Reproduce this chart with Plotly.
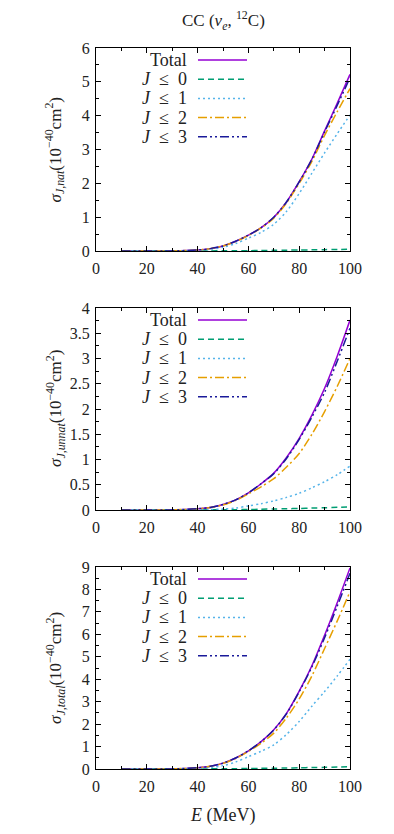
import plotly.graph_objects as go

# ---------------- data ----------------
E = [10, 20, 30, 40, 45, 50, 55, 60, 65, 70, 75, 80, 85, 90, 95, 100]

nat_total = [0, 0, 0.002, 0.03, 0.07, 0.15, 0.29, 0.47, 0.69, 1.00, 1.45, 2.05, 2.72, 3.55, 4.37, 5.22]
nat_j3    = [0, 0, 0.002, 0.03, 0.07, 0.15, 0.29, 0.47, 0.69, 1.00, 1.45, 2.04, 2.71, 3.52, 4.31, 5.12]
nat_j2    = [0, 0, 0.002, 0.03, 0.07, 0.15, 0.28, 0.46, 0.68, 0.97, 1.42, 2.00, 2.65, 3.42, 4.12, 4.80]
nat_j1    = [0, 0, 0.001, 0.02, 0.05, 0.11, 0.22, 0.38, 0.55, 0.79, 1.17, 1.70, 2.30, 2.90, 3.47, 4.02]
nat_j0    = [0, 0, 0, 0.002, 0.003, 0.005, 0.007, 0.010, 0.015, 0.020, 0.025, 0.030, 0.035, 0.040, 0.045, 0.050]

unn_total = [0, 0, 0.002, 0.025, 0.05, 0.11, 0.20, 0.34, 0.52, 0.73, 1.04, 1.42, 1.88, 2.41, 3.05, 3.76]
unn_j3    = [0, 0, 0.002, 0.025, 0.05, 0.11, 0.20, 0.34, 0.52, 0.72, 1.02, 1.40, 1.84, 2.33, 2.95, 3.60]
unn_j2    = [0, 0, 0.002, 0.024, 0.05, 0.10, 0.19, 0.32, 0.46, 0.62, 0.85, 1.12, 1.50, 1.95, 2.45, 3.00]
unn_j1    = [0, 0, 0, 0.005, 0.010, 0.020, 0.040, 0.080, 0.125, 0.18, 0.25, 0.33, 0.44, 0.56, 0.70, 0.87]
unn_j0    = [0, 0, 0, 0.002, 0.003, 0.005, 0.007, 0.010, 0.015, 0.020, 0.025, 0.030, 0.038, 0.045, 0.052, 0.060]

tot_total = [0, 0, 0.004, 0.055, 0.12, 0.26, 0.49, 0.81, 1.22, 1.75, 2.48, 3.47, 4.60, 5.96, 7.42, 8.96]
tot_j3    = [0, 0, 0.004, 0.055, 0.12, 0.26, 0.49, 0.81, 1.22, 1.74, 2.46, 3.44, 4.55, 5.85, 7.26, 8.72]
tot_j2    = [0, 0, 0.004, 0.054, 0.12, 0.25, 0.47, 0.78, 1.15, 1.60, 2.28, 3.12, 4.15, 5.37, 6.60, 7.90]
tot_j1    = [0, 0, 0.002, 0.03, 0.07, 0.15, 0.31, 0.55, 0.79, 1.08, 1.54, 2.12, 2.80, 3.45, 4.15, 4.89]
tot_j0    = [0, 0, 0, 0.003, 0.006, 0.010, 0.015, 0.020, 0.028, 0.035, 0.045, 0.055, 0.065, 0.075, 0.088, 0.100]

series_names = ["Total", "<i>J</i>  ≤  0", "<i>J</i>  ≤  1", "<i>J</i>  ≤  2", "<i>J</i>  ≤  3"]
panels = [
    dict(vals=[nat_total, nat_j0, nat_j1, nat_j2, nat_j3], ymax=6, dtick=1, minor=0.5,
         ylabel="<i>σ</i><sub><i>J,nat</i></sub>(10<sup>−40</sup>cm<sup>2</sup>)"),
    dict(vals=[unn_total, unn_j0, unn_j1, unn_j2, unn_j3], ymax=4, dtick=0.5, minor=0.25,
         ylabel="<i>σ</i><sub><i>J,unnat</i></sub>(10<sup>−40</sup>cm<sup>2</sup>)"),
    dict(vals=[tot_total, tot_j0, tot_j1, tot_j2, tot_j3], ymax=9, dtick=1, minor=0.5,
         ylabel="<i>σ</i><sub><i>J,total</i></sub>(10<sup>−40</sup>cm<sup>2</sup>)"),
]

# ---------------- styles ----------------
colors = ["#9400D3", "#009E73", "#56B4E9", "#E69F00", "#1A1A9A"]
dashes = ["solid", "6px,4px", "2px,3px", "9px,3px,2px,3px", "9px,3px,2px,3px,2px,3px"]

# page body has an 8px margin: lay the figure out in screen pixels minus that offset
OFF = 8
W, H = 394 - OFF, 834 - OFF
FONT = "Liberation Serif, DejaVu Serif, serif"
TXT = "#222222"
x_left, x_right = 96, 350
panel_px = [(48, 251), (308, 510), (567, 769)]

def px(x):
    return (x - OFF) / W

def py(y):
    return 1 - (y - OFF) / H

fig = go.Figure()
annotations = []
shapes = []

for i, p in enumerate(panels):
    n = i + 1
    xa = "x" if n == 1 else f"x{n}"
    ya = "y" if n == 1 else f"y{n}"
    for k in range(5):
        fig.add_trace(go.Scatter(
            x=E, y=p["vals"][k], mode="lines", xaxis=xa, yaxis=ya,
            line=dict(color=colors[k], width=1.5, dash=dashes[k], shape="spline", smoothing=0.8),
            showlegend=False, hoverinfo="skip"))
    top, bot = panel_px[i]
    axis_common = dict(
        showline=True, linecolor="black", linewidth=1, mirror="ticks",
        ticks="inside", ticklen=5, tickcolor="black", showgrid=False, zeroline=False,
        automargin=False,
        tickfont=dict(family=FONT, size=16, color=TXT),
    )
    fig.layout[f"xaxis{n if n > 1 else ''}"] = dict(
        domain=[px(x_left), px(x_right)], anchor=ya, range=[0, 100],
        tick0=0, dtick=20, ticklabelstandoff=3,
        minor=dict(dtick=10, ticklen=3, ticks="inside", tickcolor="black"),
        **axis_common)
    fig.layout[f"yaxis{n if n > 1 else ''}"] = dict(
        domain=[py(bot), py(top)], anchor=xa, range=[0, p["ymax"]],
        tick0=0, dtick=p["dtick"], ticklabelstandoff=2,
        minor=dict(dtick=p["minor"], ticklen=3, ticks="inside", tickcolor="black"),
        **axis_common)
    # y-axis title
    annotations.append(dict(
        x=px(55), y=py((top + bot) / 2), xref="paper", yref="paper",
        text=p["ylabel"], textangle=-90, showarrow=False,
        font=dict(family=FONT, size=17, color=TXT), xanchor="center", yanchor="middle"))
    # legend
    for k in range(5):
        yy = top + 12 + k * 19.2
        annotations.append(dict(
            x=px(189), y=py(yy), xref="paper", yref="paper", text=series_names[k],
            showarrow=False, xanchor="right", yanchor="middle",
            font=dict(family=FONT, size=18, color=TXT)))
        shapes.append(dict(
            type="line", xref="paper", yref="paper",
            x0=px(198), x1=px(247), y0=py(yy), y1=py(yy),
            line=dict(color=colors[k], width=1.5, dash=dashes[k])))

annotations.append(dict(
    x=px(223), y=py(20), xref="paper", yref="paper",
    text="CC (<i>ν</i><sub><i>e</i></sub>, <sup>12</sup>C)", showarrow=False,
    font=dict(family=FONT, size=17, color=TXT), xanchor="center", yanchor="middle"))
annotations.append(dict(
    x=px(222), y=py(815), xref="paper", yref="paper",
    text="<i>E</i> (MeV)", showarrow=False,
    font=dict(family=FONT, size=18, color=TXT), xanchor="center", yanchor="middle"))

fig.update_layout(
    width=W, height=H, margin=dict(l=0, r=0, t=0, b=0, autoexpand=False),
    paper_bgcolor="white", plot_bgcolor="white",
    annotations=annotations, shapes=shapes, showlegend=False,
)

fig.write_html("out.html")
